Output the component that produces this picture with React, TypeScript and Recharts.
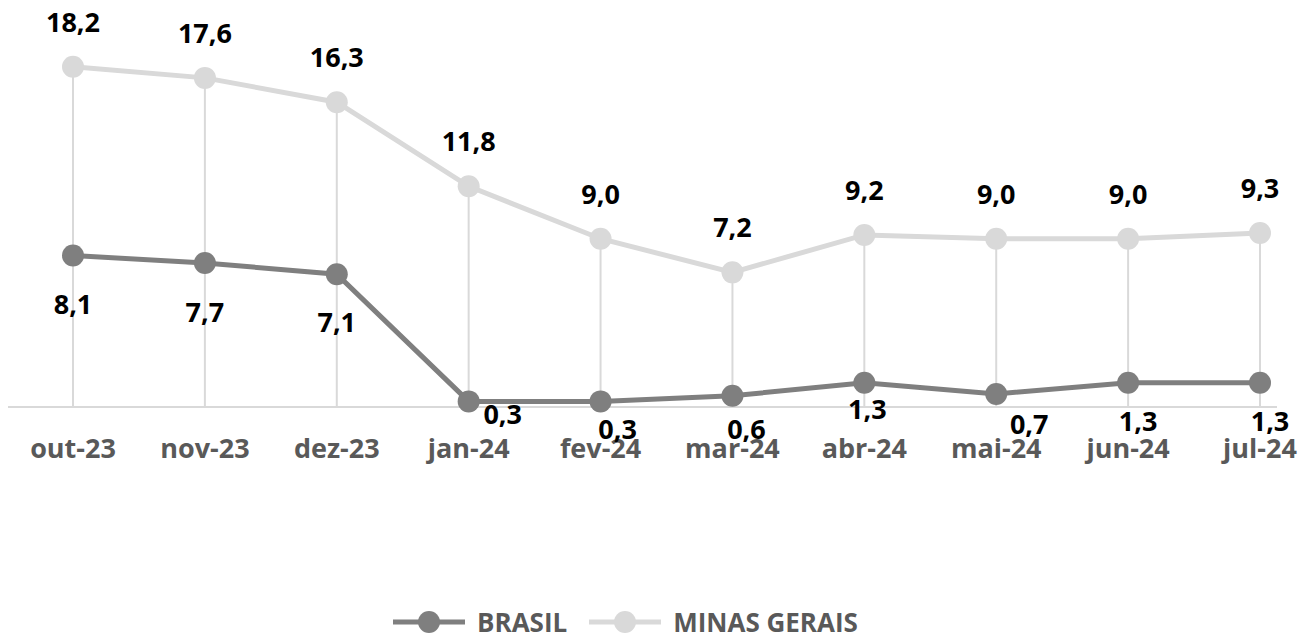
import { LineChart, Line, XAxis, YAxis, ReferenceLine, LabelList, Legend } from "recharts";

const months = ["out-23", "nov-23", "dez-23", "jan-24", "fev-24", "mar-24", "abr-24", "mai-24", "jun-24", "jul-24"];
const brasil = [8.1, 7.7, 7.1, 0.3, 0.3, 0.6, 1.3, 0.7, 1.3, 1.3];
const minasGerais = [18.2, 17.6, 16.3, 11.8, 9.0, 7.2, 9.2, 9.0, 9.0, 9.3];

// hand-placed label nudges (like the original), [dx, dy to baseline]
const brasilLabelShift = [
  [0, 58], [0, 59], [0, 58], [34, 23], [17, 38],
  [14, 43], [3, 36], [33, 40], [10, 48], [10, 48],
];

const DARK = "#7f7f7f";
const LIGHT = "#d9d9d9";
const FONT = "'Open Sans', sans-serif";

const data = months.map((m, i) => ({ month: m, brasil: brasil[i], mg: minasGerais[i] }));

const fmt = (v: number) => v.toFixed(1).replace(".", ",");

const MonthTick = (props: any) => (
  <text x={props.x} y={props.y} dy={51} textAnchor="middle" fill="#595959" fontSize={27} fontWeight={700} fontFamily={FONT}>
    {props.payload.value}
  </text>
);

const MgLabel = (props: any) => (
  <text x={props.x} y={props.y - 35} textAnchor="middle" fill="#000" fontSize={27} fontWeight={700} fontFamily={FONT}>
    {fmt(props.value)}
  </text>
);

const BrasilLabel = (props: any) => {
  const [dx, dy] = brasilLabelShift[props.index] || [0, 58];
  return (
    <text x={props.x + dx} y={props.y + dy} textAnchor="middle" fill="#000" fontSize={27} fontWeight={700} fontFamily={FONT}>
      {fmt(props.value)}
    </text>
  );
};

const LegendItem = ({ color, label }: { color: string; label: string }) => (
  <div style={{ display: "flex", alignItems: "center", marginRight: 22 }}>
    <svg width={72} height={24}>
      <line x1={0} y1={12} x2={72} y2={12} stroke={color} strokeWidth={5} strokeLinecap="round" />
      <circle cx={36} cy={12} r={11} fill={color} />
    </svg>
    <span style={{ marginLeft: 12, color: "#595959", fontSize: 26, lineHeight: "24px", fontWeight: 700, fontFamily: FONT }}>
      {label}
    </span>
  </div>
);

const LegendBox = () => (
  <div style={{ display: "flex", alignItems: "center", height: 28, paddingLeft: 393 }}>
    <LegendItem color={DARK} label="BRASIL" />
    <LegendItem color={LIGHT} label="MINAS GERAIS" />
  </div>
);

export default function App() {
  return (
    <div style={{ position: "absolute", left: 0, top: 0, width: 1314, height: 636, background: "#fff" }}>
      <LineChart width={1314} height={636} data={data} margin={{ top: 33, right: 37, left: 8, bottom: 0 }}>
        <XAxis
          dataKey="month"
          padding={{ left: 65, right: 17 }}
          axisLine={{ stroke: LIGHT, strokeWidth: 2 }}
          tickLine={false}
          tickSize={0}
          tickMargin={0}
          height={201}
          tick={<MonthTick />}
          interval={0}
        />
        <YAxis hide domain={[0, 20]} />
        {data.map((d) => (
          <ReferenceLine
            key={d.month}
            segment={[{ x: d.month, y: 0 }, { x: d.month, y: d.mg }]}
            stroke={LIGHT}
            strokeWidth={2}
          />
        ))}
        <Line
          dataKey="mg"
          name="MINAS GERAIS"
          stroke={LIGHT}
          strokeWidth={5}
          dot={{ r: 11, fill: LIGHT, stroke: "none" }}
          activeDot={false}
          isAnimationActive={false}
        >
          <LabelList dataKey="mg" content={<MgLabel />} />
        </Line>
        <Line
          dataKey="brasil"
          name="BRASIL"
          stroke={DARK}
          strokeWidth={5}
          dot={{ r: 11, fill: DARK, stroke: "none" }}
          activeDot={false}
          isAnimationActive={false}
        >
          <LabelList dataKey="brasil" content={<BrasilLabel />} />
        </Line>
        <Legend verticalAlign="bottom" content={<LegendBox />} wrapperStyle={{ left: 0, width: 1314 }} />
      </LineChart>
    </div>
  );
}
